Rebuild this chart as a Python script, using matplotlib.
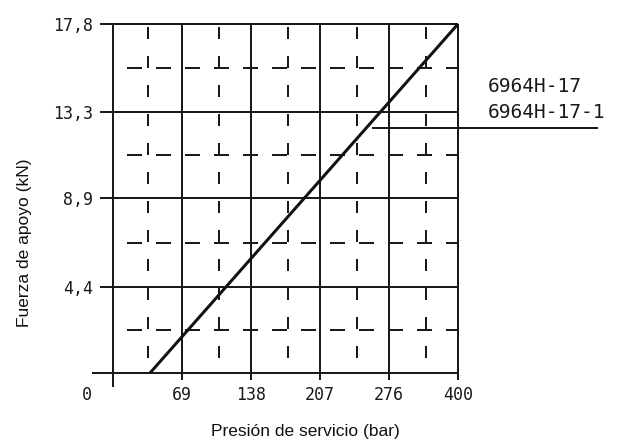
import matplotlib
matplotlib.use("Agg")
import matplotlib.pyplot as plt

plt.rcParams['lines.scale_dashes'] = False

# ---- data (x in drawing units: one grid column = 69) ----
pressure_line = [37, 345]
force_line = [0.0, 17.8]
x_grid = [0, 69, 138, 207, 276, 345]
x_tick_pos = [-26, 69, 138, 207, 276, 345]
x_tick_labels = ["0", "69", "138", "207", "276", "400"]
y_grid = [4.4, 8.9, 13.3, 17.8]
y_tick_labels = ["4,4", "8,9", "13,3", "17,8"]
x_mid = [35, 106, 175, 244, 313]
y_mid = [2.2, 6.65, 11.1, 15.55]
leader_x = [259, 485]
leader_y = 12.5
series_labels = ["6964H-17", "6964H-17-1"]

W, H = 617, 441
PX = 0.72  # points per pixel at dpi 100
col = '#1a1a1a'

fig = plt.figure(figsize=(W / 100, H / 100), dpi=100)
ax = fig.add_axes([113 / W, 68 / H, 345 / W, 349 / H])
for s in ax.spines.values():
    s.set_visible(False)
ypx = 17.8 / 349.0

lw = 2 * PX
# solid horizontal grid lines
ax.plot([-21, 345], [0, 0], color=col, lw=lw, clip_on=False, solid_capstyle='butt')
for y in y_grid:
    ax.plot([-13, 345], [y, y], color=col, lw=lw, clip_on=False, solid_capstyle='butt')
# solid vertical grid lines
for x in x_grid:
    ext = 14 if x == 0 else 7
    ax.plot([x, x], [-ext * ypx, 17.8], color=col, lw=lw, clip_on=False, solid_capstyle='butt')

# dashed mid lines
for y in y_mid:
    ax.plot([0, 345], [y, y], color=col, lw=lw, clip_on=False,
            linestyle=(15 * PX, (15 * PX, 14 * PX)), dash_capstyle='butt')
for x in x_mid:
    ax.plot([x, x], [17.8, 0], color=col, lw=lw, clip_on=False,
            linestyle=(26 * PX, (12 * PX, 17 * PX)), dash_capstyle='butt')

# characteristic line
ax.plot(pressure_line, force_line, color='#111111', lw=3 * PX, clip_on=False,
        solid_capstyle='butt', zorder=5)
# leader line
ax.plot(leader_x, [leader_y, leader_y], color=col, lw=lw, clip_on=False, solid_capstyle='butt')

mono = ['DejaVu Sans Mono']
ax.set_xticks(x_tick_pos[1:], x_tick_labels[1:])
ax.set_yticks(y_grid, y_tick_labels)
ax.set_xlim(0, 345)
ax.set_ylim(0, 17.8)
ax.tick_params(axis='x', length=0, pad=13 * PX, labelsize=12, colors=col)
ax.tick_params(axis='y', length=0, pad=20 * PX, labelsize=12, colors=col)
for t in ax.get_xticklabels() + ax.get_yticklabels():
    t.set_family(mono)
# origin label sits left of the axis corner
ax.annotate(x_tick_labels[0], (x_tick_pos[0], 0), xytext=(0, -13 * PX),
            textcoords='offset points', ha='center', va='top', family=mono,
            fontsize=12, color=col, annotation_clip=False)

fig.text(488 / W, 1 - 86 / H, series_labels[0], family=mono, fontsize=14,
         ha='left', va='center', color=col)
fig.text(488 / W, 1 - 112 / H, series_labels[1], family=mono, fontsize=14,
         ha='left', va='center', color=col)

sans = ['Liberation Sans', 'DejaVu Sans']
fig.text(305 / W, 1 - 436 / H, "Presión de servicio (bar)", family=sans, fontsize=12.5,
         ha='center', va='baseline', color='#111111')
fig.text(25 / W, 1 - 243 / H, "Fuerza de apoyo (kN)", family=sans, fontsize=12.5,
         rotation=90, ha='center', va='center', color='#111111')

fig.savefig('out.png', dpi=100)
